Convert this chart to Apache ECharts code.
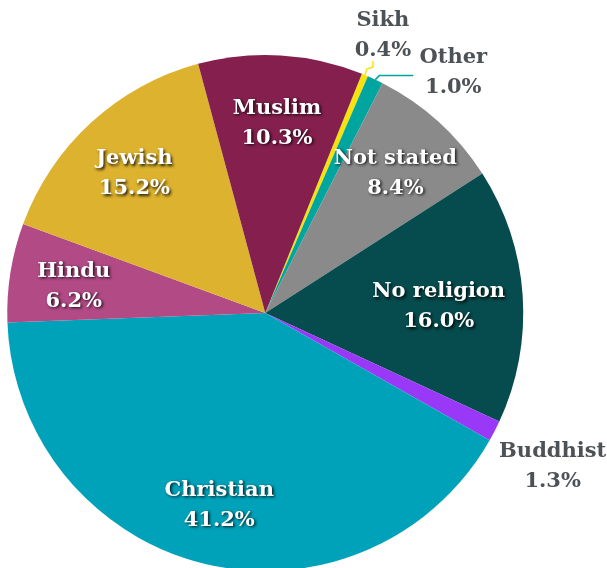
<!DOCTYPE html>
<html><head><meta charset="utf-8">
<script src="https://cdn.jsdelivr.net/npm/echarts@6/dist/echarts.min.js"></script>
<style>html,body{margin:0;padding:0;background:#fff}#c{width:607px;height:568px}</style>
</head><body><div id="c"></div>
<script>
const categories = ['Sikh','Other','Not stated','No religion','Buddhist','Christian','Hindu','Jewish','Muslim'];
const values = [0.4, 1.0, 8.4, 16.0, 1.3, 41.2, 6.2, 15.2, 10.3];
const colors = ['#F7E20C','#00A59F','#8A8A8A','#064B4D','#9A38F7','#00A2BA','#B24A86','#DDB22E','#851F4E'];
const outside = ['Sikh','Other','Buddhist'];

const R = 258;
const center = ['43.7%','55.1%'];
const font = 'DejaVu Serif';

const chart = echarts.init(document.getElementById('c'));
const pieData = categories.map((n,i)=>({name:n,value:values[i],itemStyle:{color:colors[i]}}));
const labelData = categories.map((n,i)=>{
  const out = outside.includes(n);
  return {
    name:n, value:values[i],
    label: out ? {position:'outside', color:'#4D5256', textShadowBlur:0, textShadowColor:'transparent', overflow:'none'} : {position:'inside'},
    labelLine: {show: out && n!=='Buddhist', lineStyle:{color: colors[i], width:1.5}}
  };
});

// outside label placement relative to the slice's edge anchor point
function outsideLayout(n, p0) {
  const [x, y] = p0;
  if (n === 'Sikh') return {x:x+18, y:y-39, align:'center', verticalAlign:'middle',
    labelLinePoints:[[x,y],[x+2,y-6],[x+8,y-8],[x+8,y-14]]};
  if (n === 'Other') return {x:x+78, y:y-7, align:'center', verticalAlign:'middle',
    labelLinePoints:[[x,y],[x+4,y-4],[x+38,y-4]]};
  if (n === 'Buddhist') return {x:x+58, y:y+36, align:'center', verticalAlign:'middle'};
  return {};
}

chart.setOption({
  animation:false,
  series:[
    {type:'pie', radius:[0,R], center, startAngle:68, clockwise:true, data:pieData,
     label:{show:false}, labelLine:{show:false}, itemStyle:{borderWidth:0}, silent:true},
    {type:'pie', radius:[R*0.48,R], center, startAngle:68, clockwise:true, data:labelData,
     itemStyle:{color:'transparent', borderWidth:0}, silent:true,
     label:{show:true, formatter:p=>p.name+'\n'+p.value.toFixed(1)+'%', fontFamily:font, fontWeight:'bold',
       fontSize:21, lineHeight:30, color:'#fff', align:'center',
       textShadowColor:'rgba(0,0,0,0.85)', textShadowBlur:3, textShadowOffsetX:1.5, textShadowOffsetY:1.5},
     labelLine:{length:8, length2:8, smooth:false},
     labelLayout:function(p){
       const n = categories[p.dataIndex];
       if (outside.includes(n)) return outsideLayout(n, p.labelLinePoints[0]);
       if (n === 'No religion') return {dx:-20, dy:7};
       return {dy:4};
     }}
  ]
});
</script></body></html>
